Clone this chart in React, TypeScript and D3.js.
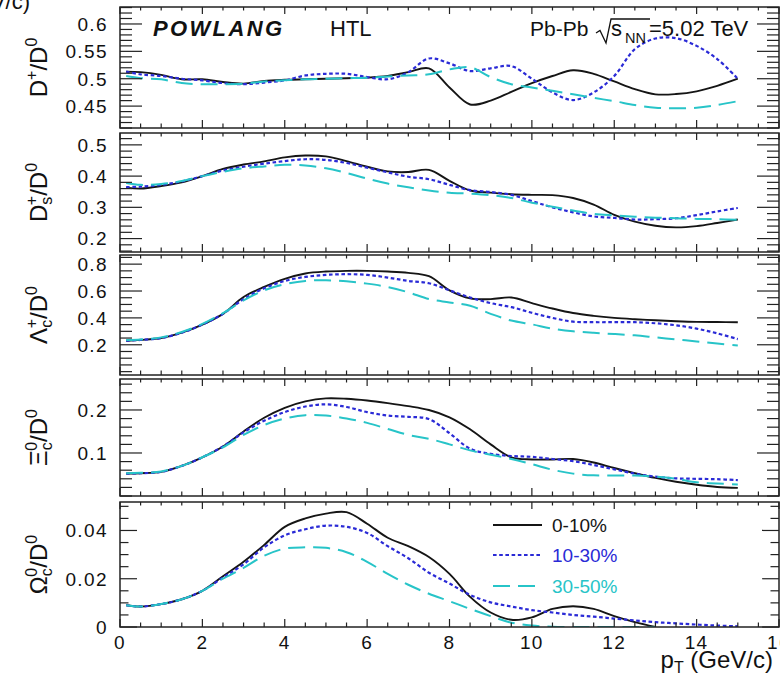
import React from 'react';
import * as d3 from 'd3';

// transverse momentum grid (GeV/c) shared by all model curves
const pT = [0.15, 0.5, 1, 1.5, 2, 2.5, 3, 3.5, 4, 4.5, 5, 5.5, 6, 6.5, 7, 7.5, 8, 8.5, 9, 9.5, 10, 10.5, 11, 11.5, 12, 12.5, 13, 13.5, 14, 14.5, 15];

const centralities = ['0-10%', '10-30%', '30-50%'];

// D+/D0
const dPlus_0_10 = [0.513, 0.512, 0.507, 0.499, 0.499, 0.494, 0.491, 0.496, 0.498, 0.499, 0.5, 0.501, 0.502, 0.505, 0.512, 0.519, 0.484, 0.453, 0.46, 0.476, 0.492, 0.505, 0.5155, 0.509, 0.495, 0.481, 0.4715, 0.472, 0.477, 0.487, 0.5];
const dPlus_10_30 = [0.513, 0.508, 0.505, 0.5, 0.497, 0.492, 0.49, 0.493, 0.497, 0.506, 0.509, 0.509, 0.503, 0.499, 0.512, 0.537, 0.528, 0.514, 0.519, 0.523, 0.5, 0.475, 0.461, 0.475, 0.505, 0.554, 0.5735, 0.574, 0.56, 0.536, 0.5];
const dPlus_30_50 = [0.505, 0.501, 0.499, 0.492, 0.49, 0.49, 0.491, 0.495, 0.497, 0.499, 0.5, 0.501, 0.502, 0.504, 0.506, 0.508, 0.517, 0.521, 0.503, 0.49, 0.484, 0.478, 0.4716, 0.465, 0.459, 0.452, 0.447, 0.446, 0.447, 0.452, 0.459];

// Ds+/D0
const ds_0_10 = [0.363, 0.36, 0.368, 0.38, 0.4, 0.423, 0.437, 0.447, 0.46, 0.466, 0.463, 0.448, 0.43, 0.415, 0.413, 0.42, 0.385, 0.354, 0.347, 0.342, 0.34, 0.339, 0.33, 0.309, 0.276, 0.254, 0.241, 0.236, 0.24, 0.25, 0.261];
const ds_10_30 = [0.365, 0.366, 0.372, 0.383, 0.4, 0.418, 0.43, 0.44, 0.448, 0.454, 0.452, 0.442, 0.427, 0.412, 0.398, 0.39, 0.372, 0.355, 0.349, 0.34, 0.32, 0.3, 0.284, 0.271, 0.266, 0.261, 0.262, 0.265, 0.275, 0.287, 0.298];
const ds_30_50 = [0.378, 0.372, 0.375, 0.384, 0.4, 0.414, 0.425, 0.431, 0.436, 0.434, 0.425, 0.41, 0.392, 0.376, 0.364, 0.354, 0.347, 0.344, 0.339, 0.33, 0.315, 0.302, 0.29, 0.279, 0.274, 0.27, 0.267, 0.265, 0.263, 0.262, 0.26];

// Lambda_c+/D0
const lc_0_10 = [0.23, 0.236, 0.25, 0.29, 0.35, 0.43, 0.555, 0.63, 0.69, 0.73, 0.745, 0.75, 0.75, 0.745, 0.735, 0.71, 0.605, 0.545, 0.54, 0.552, 0.51, 0.47, 0.436, 0.415, 0.4, 0.39, 0.382, 0.375, 0.37, 0.369, 0.368];
const lc_10_30 = [0.23, 0.236, 0.25, 0.29, 0.35, 0.43, 0.54, 0.62, 0.675, 0.705, 0.72, 0.725, 0.72, 0.7, 0.675, 0.658, 0.605, 0.552, 0.51, 0.48, 0.438, 0.4, 0.372, 0.368, 0.368, 0.368, 0.36, 0.345, 0.32, 0.285, 0.242];
const lc_30_50 = [0.235, 0.24, 0.255, 0.295, 0.355, 0.435, 0.53, 0.605, 0.65, 0.675, 0.68, 0.672, 0.655, 0.63, 0.59, 0.54, 0.515, 0.49, 0.43, 0.38, 0.352, 0.32, 0.3, 0.289, 0.28, 0.27, 0.255, 0.24, 0.225, 0.21, 0.194];

// Xi_c0/D0
const xi_0_10 = [0.052, 0.053, 0.056, 0.07, 0.09, 0.115, 0.15, 0.182, 0.205, 0.22, 0.227, 0.226, 0.222, 0.216, 0.209, 0.2, 0.183, 0.155, 0.12, 0.09, 0.085, 0.085, 0.086, 0.078, 0.065, 0.053, 0.042, 0.033, 0.026, 0.021, 0.019];
const xi_10_30 = [0.052, 0.053, 0.056, 0.07, 0.09, 0.115, 0.148, 0.175, 0.195, 0.208, 0.213, 0.207, 0.195, 0.187, 0.184, 0.179, 0.146, 0.11, 0.098, 0.093, 0.091, 0.086, 0.081, 0.072, 0.062, 0.052, 0.045, 0.041, 0.04, 0.039, 0.037];
const xi_30_50 = [0.053, 0.054, 0.057, 0.07, 0.09, 0.113, 0.142, 0.165, 0.18, 0.188, 0.187, 0.18, 0.17, 0.156, 0.142, 0.133, 0.12, 0.106, 0.096, 0.086, 0.074, 0.061, 0.052, 0.048, 0.0476, 0.0475, 0.045, 0.04, 0.032, 0.029, 0.027];

// Omega_c0/D0
const om_0_10 = [0.009, 0.0085, 0.0095, 0.0115, 0.015, 0.021, 0.027, 0.034, 0.0415, 0.045, 0.047, 0.0476, 0.0428, 0.037, 0.0335, 0.029, 0.022, 0.0125, 0.006, 0.003, 0.004, 0.0075, 0.0086, 0.0075, 0.0045, 0.002, 0.0];
const om_10_30 = [0.009, 0.0085, 0.0095, 0.0115, 0.015, 0.0205, 0.026, 0.033, 0.038, 0.0405, 0.042, 0.0415, 0.039, 0.0335, 0.0285, 0.0225, 0.018, 0.0133, 0.0102, 0.0085, 0.007, 0.006, 0.005, 0.0043, 0.0035, 0.0027, 0.002, 0.0015, 0.001, 0.0006, 0.0003];
const om_30_50 = [0.009, 0.0085, 0.0095, 0.0115, 0.015, 0.02, 0.0245, 0.0295, 0.0325, 0.033, 0.0328, 0.031, 0.027, 0.022, 0.0175, 0.0138, 0.0107, 0.0075, 0.0045, 0.0018, 0.0006, 0.0001, 0, 0, 0, 0, 0];

const xMajorTicks = [0, 2, 4, 6, 8, 10, 12, 14, 16];

const colors = ['#151515', '#2a2ad6', '#27c4c8'];
const dashArrays = ['none', '3.6,2.6', '17,8'];
const widths = [1.9, 2.2, 2.0];

const FONT = '"Liberation Sans", Arial, Helvetica, sans-serif';
const W = 780;
const H = 674;
const X0 = 120;
const X1 = 779;
const TICK_FONT = 19;
const TICK_SPACING = 1.4;

type Panel = {
  key: string;
  top: number;
  bottom: number;
  domain: [number, number];
  major: number[];
  minorStep: number;
  majorLen: number;
  minorLen: number;
  series: number[][];
  title: React.ReactNode;
};

// ratio label pieces: main symbol, optional subscript, superscript, then "/D^0"
function ratioTitle(sym: string, sub: string | null, supTxt: string) {
  return (
    <>
      <tspan>{sym}</tspan>
      {sub ? (
        <>
          <tspan dy={5} fontSize={16}>{sub}</tspan>
          <tspan dx={-8.5} dy={-15} fontSize={16}>{supTxt}</tspan>
        </>
      ) : (
        <tspan dy={-10} fontSize={16}>{supTxt}</tspan>
      )}
      <tspan dy={10}>/D</tspan>
      <tspan dy={-10} fontSize={16}>0</tspan>
    </>
  );
}

const panels: Panel[] = [
  {
    key: 'dplus', top: 7, bottom: 128, domain: [0.41, 0.631],
    major: [0.45, 0.5, 0.55, 0.6], minorStep: 0.01, majorLen: 22, minorLen: 12,
    series: [dPlus_0_10, dPlus_10_30, dPlus_30_50],
    title: ratioTitle('D', null, '+'),
  },
  {
    key: 'ds', top: 133, bottom: 252, domain: [0.157, 0.538],
    major: [0.2, 0.3, 0.4, 0.5], minorStep: 0.02, majorLen: 22, minorLen: 12,
    series: [ds_0_10, ds_10_30, ds_30_50],
    title: ratioTitle('D', 's', '+'),
  },
  {
    key: 'lc', top: 255, bottom: 375, domain: [-0.025, 0.868],
    major: [0.2, 0.4, 0.6, 0.8], minorStep: 0.05, majorLen: 22, minorLen: 12,
    series: [lc_0_10, lc_10_30, lc_30_50],
    title: ratioTitle('Λ', 'c', '+'),
  },
  {
    key: 'xi', top: 379, bottom: 496, domain: [0, 0.272],
    major: [0.1, 0.2], minorStep: 0.02, majorLen: 22, minorLen: 12,
    series: [xi_0_10, xi_10_30, xi_30_50],
    title: ratioTitle('Ξ', 'c', '0'),
  },
  {
    key: 'om', top: 502, bottom: 627, domain: [0, 0.0518],
    major: [0, 0.02, 0.04], minorStep: 0.005, majorLen: 17, minorLen: 8.5,
    series: [om_0_10, om_10_30, om_30_50],
    title: ratioTitle('Ω', 'c', '0'),
  },
];

const x = d3.scaleLinear().domain([0, 16]).range([X0, X1]);
const xMinor = d3.range(0, 16.001, 0.5).filter((v) => Math.abs(v / 2 - Math.round(v / 2)) > 1e-6);

const fmt = (v: number) => String(+v.toFixed(4));

function PanelView({ p }: { p: Panel }) {
  const y = d3.scaleLinear().domain(p.domain).range([p.bottom, p.top]);
  const minors: number[] = [];
  const start = Math.ceil(p.domain[0] / p.minorStep - 1e-6);
  for (let i = start; i * p.minorStep <= p.domain[1] + 1e-9; i++) {
    const v = +(i * p.minorStep).toFixed(5);
    if (!p.major.some((m) => Math.abs(m - v) < 1e-6)) minors.push(v);
  }
  const line = d3
    .line<[number, number]>()
    .x((d) => x(d[0]))
    .y((d) => y(d[1]))
    .curve(d3.curveCatmullRom.alpha(0.5));
  const clipId = 'clip-' + p.key;
  const cy = (p.top + p.bottom) / 2;
  return (
    <g>
      <defs>
        <clipPath id={clipId}>
          <rect x={X0} y={p.top} width={X1 - X0} height={p.bottom - p.top} />
        </clipPath>
      </defs>
      <g clipPath={`url(#${clipId})`}>
        {p.series.map((vals, i) => {
          const pts = vals.map((v, j) => [pT[j], v] as [number, number]);
          return (
            <path
              key={i}
              d={line(pts) || ''}
              fill="none"
              stroke={colors[i]}
              strokeWidth={widths[i]}
              strokeDasharray={dashArrays[i]}
            />
          );
        })}
      </g>
      {p.major.map((v) => (
        <g key={'M' + v}>
          <line x1={X0} x2={X0 + p.majorLen} y1={y(v)} y2={y(v)} stroke="#222" strokeWidth={1.2} />
          <line x1={X1} x2={X1 - p.majorLen} y1={y(v)} y2={y(v)} stroke="#222" strokeWidth={1.2} />
          <text
            x={108}
            y={y(v)}
            dy="0.36em"
            textAnchor="end"
            fontSize={TICK_FONT}
            letterSpacing={TICK_SPACING}
            fill="#111"
          >
            {fmt(v)}
          </text>
        </g>
      ))}
      {minors.map((v) => (
        <g key={'m' + v}>
          <line x1={X0} x2={X0 + p.minorLen} y1={y(v)} y2={y(v)} stroke="#222" strokeWidth={1.2} />
          <line x1={X1} x2={X1 - p.minorLen} y1={y(v)} y2={y(v)} stroke="#222" strokeWidth={1.2} />
        </g>
      ))}
      {xMajorTicks.map((v) => (
        <g key={'xM' + v}>
          <line x1={x(v)} x2={x(v)} y1={p.bottom} y2={p.bottom - 8} stroke="#222" strokeWidth={1.2} />
          <line x1={x(v)} x2={x(v)} y1={p.top} y2={p.top + 7} stroke="#222" strokeWidth={1.2} />
        </g>
      ))}
      {xMinor.map((v) => (
        <g key={'xm' + v}>
          <line x1={x(v)} x2={x(v)} y1={p.bottom} y2={p.bottom - 4.5} stroke="#222" strokeWidth={1.2} />
          <line x1={x(v)} x2={x(v)} y1={p.top} y2={p.top + 3.5} stroke="#222" strokeWidth={1.2} />
        </g>
      ))}
      <rect x={X0} y={p.top} width={X1 - X0} height={p.bottom - p.top} fill="none" stroke="#222" strokeWidth={1.5} />
      <text
        transform={`translate(47,${cy}) rotate(-90)`}
        textAnchor="middle"
        fontSize={24}
        fill="#111"
      >
        {p.title}
      </text>
    </g>
  );
}

export default function App() {
  const legendY = [525, 555, 586];
  return (
    <svg
      width={W}
      height={H}
      style={{ position: 'absolute', left: 0, top: 0, background: '#fff' }}
      fontFamily={FONT}
    >
      <rect x={0} y={0} width={W} height={H} fill="#fff" />
      <text x={30} y={9} textAnchor="end" fontSize={22} fill="#111">(GeV/c)</text>
      {panels.map((p) => (
        <PanelView key={p.key} p={p} />
      ))}
      {xMajorTicks.map((v) => (
        <text
          key={v}
          x={x(v)}
          y={649}
          textAnchor="middle"
          fontSize={TICK_FONT}
          letterSpacing={TICK_SPACING}
          fill="#111"
        >
          {v}
        </text>
      ))}
      <text x={773} y={668} textAnchor="end" fontSize={24} fill="#111">
        <tspan>p</tspan>
        <tspan dy={5} fontSize={16}>T</tspan>
        <tspan dy={-5}> (GeV/c)</tspan>
      </text>
      <text x={153} y={36} fontSize={22} fontWeight="bold" fontStyle="italic" fill="#111" textLength={129} lengthAdjust="spacing">
        POWLANG
      </text>
      <text x={330} y={36} fontSize={22} fill="#111">HTL</text>
      <text x={530} y={36} fontSize={21} fill="#111">Pb-Pb</text>
      <path d="M596,33 L600,30.5 L606,43 L611,19 L650,19" fill="none" stroke="#111" strokeWidth={1.3} />
      <text x={611} y={36} fontSize={22} fill="#111">s</text>
      <text x={625} y={43} fontSize={14.5} fill="#111">NN</text>
      <text x={649} y={36} fontSize={22} fill="#111">=5.02 TeV</text>
      {centralities.map((c, i) => (
        <g key={c}>
          <line
            x1={493}
            x2={542}
            y1={legendY[i]}
            y2={legendY[i]}
            stroke={colors[i]}
            strokeWidth={widths[i]}
            strokeDasharray={dashArrays[i]}
          />
          <text x={552} y={legendY[i]} dy="0.36em" fontSize={19} fill={colors[i]}>
            {c}
          </text>
        </g>
      ))}
    </svg>
  );
}
